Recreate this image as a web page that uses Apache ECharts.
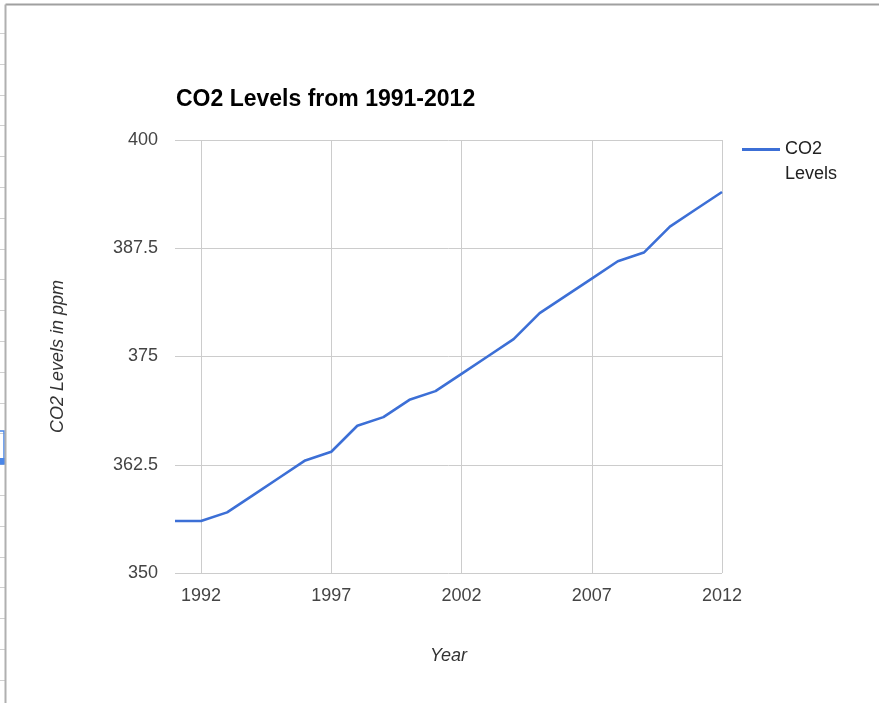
<!DOCTYPE html>
<html>
<head>
<meta charset="utf-8">
<script src="https://cdn.jsdelivr.net/npm/echarts@6/dist/echarts.min.js"></script>
<style>
html,body{margin:0;padding:0;background:#fff;}
#chart{width:879px;height:703px;}
</style>
</head>
<body>
<div id="chart"></div>
<script>
const years = ['1991','1992','1993','1994','1995','1996','1997','1998','1999','2000','2001','2002','2003','2004','2005','2006','2007','2008','2009','2010','2011','2012'];
const co2Levels = [356,356,357,359,361,363,364,367,368,370,371,373,375,377,380,382,384,386,387,390,392,394];
const yTicks = [350, 362.5, 375, 387.5, 400];
const labeledYears = ['1992','1997','2002','2007','2012'];

const chart = echarts.init(document.getElementById('chart'));

// decorative spreadsheet strip on the left
const deco = [];
for (let y = 33; y < 703; y += 30.8) {
  deco.push({type:'line', shape:{x1:0,y1:Math.round(y)+0.5,x2:5,y2:Math.round(y)+0.5}, style:{stroke:'#d0d0d0',lineWidth:1}, silent:true});
}
deco.push({type:'rect', shape:{x:-2,y:431,width:6,height:33}, style:{fill:'none',stroke:'#4a86e8',lineWidth:1.5}, silent:true});
deco.push({type:'rect', shape:{x:0,y:458,width:5,height:6}, style:{fill:'#4a86e8'}, silent:true});
deco.push({type:'line', shape:{x1:5.5,y1:4.5,x2:879,y2:4.5}, style:{stroke:'#a0a0a0',lineWidth:2}, silent:true});
deco.push({type:'line', shape:{x1:5.5,y1:4.5,x2:5.5,y2:703}, style:{stroke:'#b0b0b0',lineWidth:2}, silent:true});

chart.setOption({
  animation:false,
  backgroundColor:'#fff',
  textStyle:{fontFamily:'Arial, "Liberation Sans", sans-serif'},
  title:{
    text:'CO2 Levels from 1991-2012',
    left:171, top:83,
    textStyle:{fontSize:23, fontWeight:'bold', color:'#000', fontFamily:'Arial, "Liberation Sans", sans-serif'}
  },
  legend:{
    left:737, top:107,
    orient:'vertical',
    itemWidth:38, itemHeight:3,
    itemGap:8,
    icon:'rect',
    formatter:function(){ return '\nCO2\nLevels'; },
    textStyle:{fontSize:18, color:'#222', lineHeight:25},
    data:[{name:'CO2 Levels'}]
  },
  grid:{left:175, right:157, top:140, bottom:130, containLabel:false},
  xAxis:{
    type:'category',
    data:years,
    boundaryGap:false,
    name:'Year',
    nameLocation:'middle',
    nameGap:74,
    nameTextStyle:{fontSize:18, fontStyle:'italic', color:'#333'},
    axisLine:{show:false},
    axisTick:{show:false},
    axisLabel:{
      interval:function(i, v){ return labeledYears.indexOf(v) >= 0; },
      fontSize:18, color:'#444', margin:14
    },
    splitLine:{
      show:true,
      interval:function(i, v){ return labeledYears.indexOf(v) >= 0; },
      lineStyle:{color:'#cccccc', width:1}
    }
  },
  yAxis:{
    type:'value',
    min:350, max:400, interval:12.5,
    name:'CO2 Levels in ppm',
    nameLocation:'middle',
    nameGap:108,
    nameTextStyle:{fontSize:18, fontStyle:'italic', color:'#333'},
    axisLine:{show:false},
    axisTick:{show:false},
    axisLabel:{
      fontSize:18, color:'#444', margin:17,
      formatter:function(v){ return yTicks.indexOf(v) >= 0 ? String(v) : ''; }
    },
    splitLine:{show:true, lineStyle:{color:'#cccccc', width:1}}
  },
  series:[{
    name:'CO2 Levels',
    type:'line',
    data:co2Levels,
    showSymbol:false,
    symbol:'none',
    lineStyle:{color:'#3c6fd6', width:2.6},
    itemStyle:{color:'#3c6fd6'}
  }],
  graphic:deco
});
</script>
</body>
</html>
